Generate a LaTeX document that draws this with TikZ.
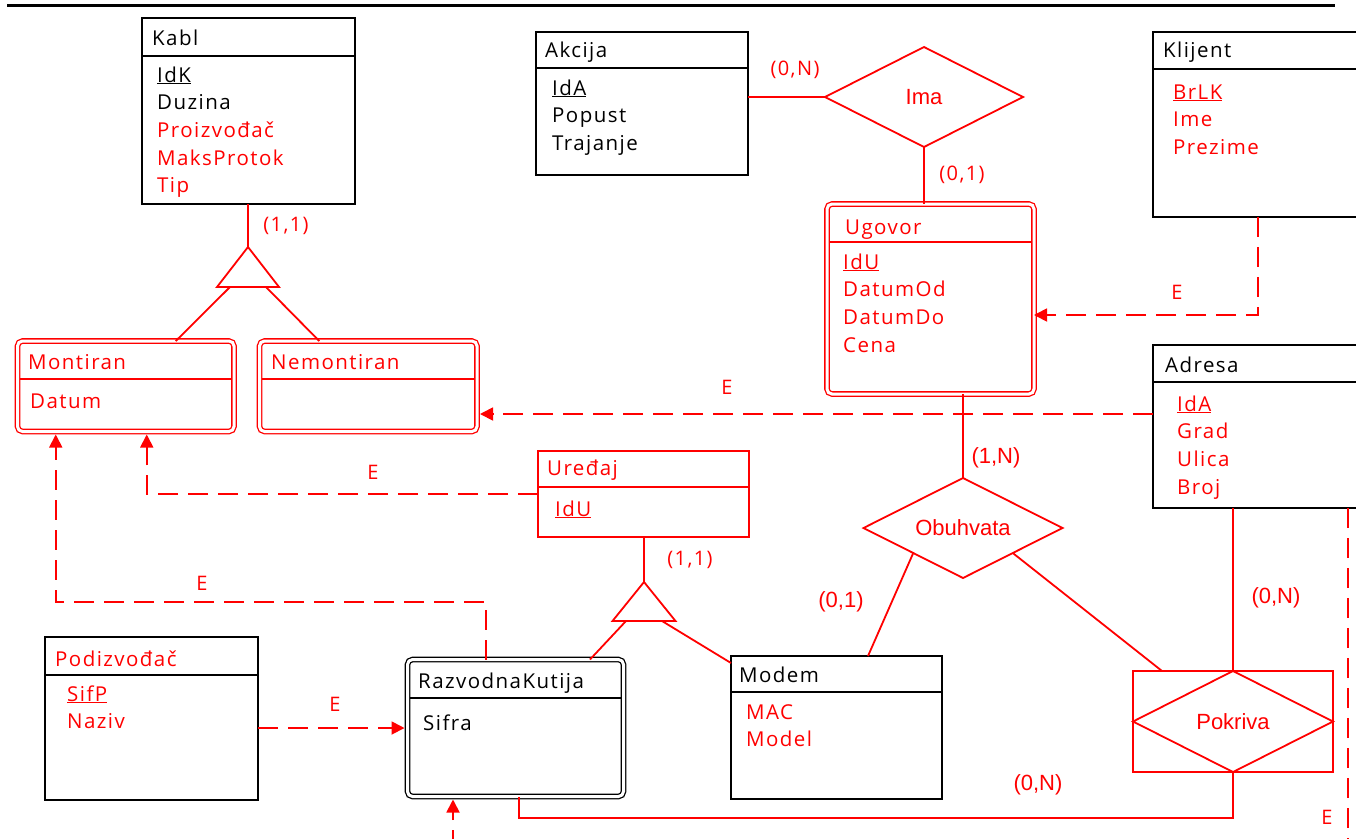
\documentclass[tikz,border=0pt]{standalone}
\usepackage{fontspec}
\setmainfont{Open Sans}
\newfontfamily\entfont[LetterSpace=7]{Open Sans}
\newfontfamily\relfont{Liberation Sans}
\usetikzlibrary{positioning,shapes.geometric,arrows.meta}
\newcommand{\rd}[1]{\textcolor{red}{#1}}

\begin{document}
\begin{tikzpicture}[x=1pt,y=-1pt,
		ent/.style={draw,line width=2pt,anchor=north west,inner sep=0pt,outer sep=0pt},
		went/.style={ent,rounded corners=5pt,double,double distance=3pt,line width=1.3pt},
		sepl/.style={line width=1.8pt},
		lbl/.style={font=\entfont\fontsize{20.5}{27.7}\selectfont,inner sep=0pt,anchor=base west},
		card/.style={font=\entfont\fontsize{20}{24}\selectfont,text=red,inner sep=0pt},
		cardb/.style={font=\relfont\fontsize{22}{26}\selectfont,text=red,inner sep=0pt},
		rel/.style={draw=red,line width=1.8pt},
		relnode/.style={diamond,aspect=2,rel,inner sep=0pt,outer sep=0pt,font=\relfont\fontsize{22}{26}\selectfont,text=red},
		isa/.style={red,line width=1.8pt,dash pattern=on 20pt off 10pt,-{Triangle[length=13pt,width=13pt]}}
		]
		\useasboundingbox (0,0) rectangle (1356,838);
		\clip (0,0) rectangle (1356,838);
		\draw[line width=3pt] (7,5) -- (1335,5);
		
		% entiteti
		\node[ent,minimum width=213pt,minimum height=186pt] (kabl) at (142,18) {};
		\draw[sepl] ([yshift=-38pt]kabl.north west) -- ([yshift=-38pt]kabl.north east);
		\node[lbl] (kabl-t) at (152,45) {Kabl};
		\node[lbl] (kabl-a) at (157,82) {\begin{tabular}[t]{@{}l@{}}\underline{IdK}\\ Duzina\\ \rd{Proizvođač}\\ \rd{MaksProtok}\\ \rd{Tip}\end{tabular}};
		
		\node[ent,minimum width=212pt,minimum height=143pt] (akcija) at (536,32) {};
		\draw[sepl] ([yshift=-36pt]akcija.north west) -- ([yshift=-36pt]akcija.north east);
		\node[lbl] (akcija-t) at (545,57) {Akcija};
		\node[lbl] (akcija-a) at (552,95) {\begin{tabular}[t]{@{}l@{}}\underline{IdA}\\ Popust\\ Trajanje\end{tabular}};
		
		\node[ent,minimum width=230pt,minimum height=185pt] (klijent) at (1153,32) {};
		\draw[sepl] ([yshift=-37pt]klijent.north west) -- ([yshift=-37pt]klijent.north east);
		\node[lbl] (klijent-t) at (1163,57) {Klijent};
		\node[lbl,text=red] (klijent-a) at (1173,99) {\begin{tabular}[t]{@{}l@{}}\underline{BrLK}\\ Ime\\ Prezime\end{tabular}};
		
		\node[went,draw=red,minimum width=207pt,minimum height=190pt] (ugovor) at (827,204) {};
		\draw[sepl,red,line width=1.5pt] ([xshift=2.8pt,yshift=-38pt]ugovor.north west) -- ([xshift=-2.8pt,yshift=-38pt]ugovor.north east);
		\node[lbl,text=red] (ugovor-t) at (845,234) {Ugovor};
		\node[lbl,text=red] (ugovor-a) at (843,269) {\begin{tabular}[t]{@{}l@{}}\underline{IdU}\\ DatumOd\\ DatumDo\\ Cena\end{tabular}};
		
		\node[ent,minimum width=230pt,minimum height=163pt] (adresa) at (1153,345) {};
		\draw[sepl] ([yshift=-37pt]adresa.north west) -- ([yshift=-37pt]adresa.north east);
		\node[lbl] (adresa-t) at (1165,372) {Adresa};
		\node[lbl,text=red] (adresa-a) at (1177,411) {\begin{tabular}[t]{@{}l@{}}\underline{IdA}\\ Grad\\ Ulica\\ Broj\end{tabular}};
		
		\node[went,draw=red,minimum width=216.5pt,minimum height=90.5pt] (mont) at (17.5,341) {};
		\draw[sepl,red,line width=1.5pt] ([xshift=2.8pt,yshift=-38pt]mont.north west) -- ([xshift=-2.8pt,yshift=-38pt]mont.north east);
		\node[lbl,text=red] (mont-t) at (28,369) {Montiran};
		\node[lbl,text=red] (mont-a) at (30,408) {Datum};
		
		\node[went,draw=red,minimum width=217.5pt,minimum height=90.5pt] (nemont) at (259.5,341) {};
		\draw[sepl,red,line width=1.5pt] ([xshift=2.8pt,yshift=-38pt]nemont.north west) -- ([xshift=-2.8pt,yshift=-38pt]nemont.north east);
		\node[lbl,text=red] (nemont-t) at (271,369) {Nemontiran};
		
		\node[ent,draw=red,minimum width=211pt,minimum height=86pt] (ured) at (538,451) {};
		\draw[sepl,red] ([yshift=-36pt]ured.north west) -- ([yshift=-36pt]ured.north east);
		\node[lbl,text=red] (ured-t) at (547,475) {Uređaj};
		\node[lbl,text=red] (ured-a) at (555,516) {\underline{IdU}};
		
		\node[ent,minimum width=213pt,minimum height=163pt] (podiz) at (45,637) {};
		\draw[sepl] ([yshift=-38pt]podiz.north west) -- ([yshift=-38pt]podiz.north east);
		\node[lbl,text=red] (podiz-t) at (55,666) {Podizvođač};
		\node[lbl,text=red] (podiz-a) at (67,701) {\begin{tabular}[t]{@{}l@{}}\underline{SifP}\\ Naziv\end{tabular}};
		
		\node[went,minimum width=216pt,minimum height=137pt] (razv) at (407.5,659.5) {};
		\draw[sepl,line width=1.5pt] ([xshift=2.8pt,yshift=-38.5pt]razv.north west) -- ([xshift=-2.8pt,yshift=-38.5pt]razv.north east);
		\node[lbl] (razv-t) at (418,688) {RazvodnaKutija};
		\node[lbl] (razv-a) at (423,730) {Sifra};
		
		\node[ent,minimum width=211pt,minimum height=143pt] (modem) at (731,656) {};
		\draw[sepl] ([yshift=-36pt]modem.north west) -- ([yshift=-36pt]modem.north east);
		\node[lbl] (modem-t) at (739,682) {Modem};
		\node[lbl,text=red] (modem-a) at (746,719) {\begin{tabular}[t]{@{}l@{}}MAC\\ Model\end{tabular}};
		
		% veze
		\node[relnode,minimum width=198pt,minimum height=100pt] (ima) at (924,97) {Ima};
		\node[relnode,minimum width=199pt,minimum height=100pt] (obuh) at (963,528) {Obuhvata};
		\node[rel,minimum width=200pt,minimum height=101pt,inner sep=0pt,outer sep=0pt] (pokrbox) at (1233,721.5) {};
		\node[relnode,minimum width=200pt,minimum height=101pt] (pokr) at (pokrbox) {Pokriva};
		
		% specijalizacije
		\coordinate (isa1) at (248,247);
		\coordinate (isa1l) at (230,287);
		\coordinate (isa1r) at (266,287);
		\draw[rel] (isa1) -- ++(-31,40) -- ++(62,0) -- cycle;
		\coordinate (isa2) at (644,582);
		\coordinate (isa2l) at (626,621);
		\coordinate (isa2r) at (662,621);
		\draw[rel] (isa2) -- ++(-31.5,39) -- ++(63,0) -- cycle;
		
		\draw[rel] (isa1 |- kabl.south) -- (isa1);
		\draw[rel] (isa1l) -- ([xshift=50pt]mont.north);
		\draw[rel] (isa1r) -- ([xshift=-49pt]nemont.north);
		\draw[rel] (isa2 |- ured.south) -- (isa2);
		\draw[rel] (isa2l) -- ([xshift=74.5pt]razv.north);
		\draw[rel] (isa2r) -- ([yshift=-7pt]modem.north west);
		
		\draw[rel] (ima.west -| akcija.east) -- (ima.west);
		\draw[rel] (ima.south) -- (ima.south |- ugovor.north);
		\draw[rel] (obuh.north |- ugovor.south) -- (obuh.north);
		\draw[rel] (obuh.south west) -- ([xshift=31.5pt]modem.north);
		\draw[rel] (obuh.south east) -- ([xshift=-71pt]pokrbox.north);
		\draw[rel] (pokr.north |- adresa.south) -- (pokr.north);
		\draw[rel] (pokr.south) -- ++(0,46) -| ([xshift=3.5pt]razv.south);
		
		% egzistencijalne zavisnosti
		\coordinate (cutb) at (453,850);
		\coordinate (cutr) at (1348,850);
		\draw[isa] ([xshift=105pt]klijent.south west) |- ([yshift=-16pt]ugovor.east);
		\draw[isa,shorten >=3pt] ([yshift=12.5pt]adresa.west) -- ([yshift=12.5pt]adresa.west -| nemont.east);
		\draw[isa,shorten >=3pt] (ured.west) -| ([xshift=21pt]mont.south);
		\draw[isa,shorten >=3pt] ([xshift=-29.5pt]razv.north) -- ++(0,-57.5) -| ([xshift=-70pt]mont.south);
		\draw[isa,shorten >=3pt] (razv.west -| podiz.east) -- (razv.west);
		\draw[isa,shorten >=3pt] (cutb) -- (cutb |- razv.south);
		\draw[isa,-] (cutr |- adresa.south) -- (cutr);
		
		% kardinalnosti
		\node[card] (k1) at (286,226) {(1,1)};
		\node[card] (k2) at (795,70) {(0,N)};
		\node[card] (k3) at (962,175) {(0,1)};
		\node[card] (k4) at (690,560) {(1,1)};
		\node[cardb] (k5) at (996,458) {(1,N)};
		\node[cardb] (k6) at (841,602) {(0,1)};
		\node[cardb] (k7) at (1276,598) {(0,N)};
		\node[cardb] (k8) at (1038,785) {(0,N)};
		\node[card] (e1) at (1177,292) {E};
		\node[card] (e2) at (727,387) {E};
		\node[card] (e3) at (373,472) {E};
		\node[card] (e4) at (202,583) {E};
		\node[card] (e5) at (335,704) {E};
		\node[card] (e6) at (1327,817) {E};
	\end{tikzpicture}
\end{document}
